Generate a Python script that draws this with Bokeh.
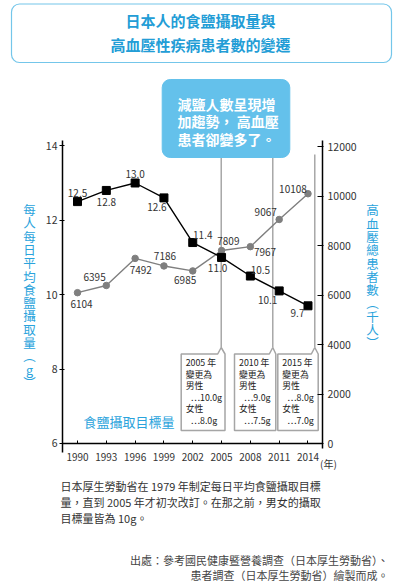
from bokeh.plotting import figure
from bokeh.models import ColumnDataSource, LinearAxis, Range1d, FixedTicker, Label, BoxAnnotation
from bokeh.core.properties import value
from bokeh.embed import file_html
from bokeh.resources import INLINE

# ---------------- data ----------------
years = [1990, 1993, 1996, 1999, 2002, 2005, 2008, 2011, 2014]
salt_intake = [12.5, 12.8, 13.0, 12.6, 11.4, 11.0, 10.5, 10.1, 9.7]
patients = [6104, 6395, 7492, 7186, 6985, 7809, 7967, 9067, 10108]
left_ticks = [6, 8, 10, 12, 14]
right_ticks = [0, 2000, 4000, 6000, 8000, 10000, 12000]
x_ticks = [1990, 1993, 1996, 1999, 2002, 2005, 2008, 2011, 2014]

title_lines = ["日本人的食鹽攝取量與", "高血壓性疾病患者數的變遷"]
callout_lines = ["減鹽人數呈現增", "加趨勢，\u00a0高血壓", "患者卻變多了。"]
left_label = "每人每日平均食鹽攝取量︵g︶"
right_label = "高血壓總患者數︵千人︶"
target_label = "食鹽攝取目標量"
year_unit = "(年)"
change_notes = [
    ["2005 年", "變更為", "男性", "…10.0g", "女性", "…8.0g"],
    ["2010 年", "變更為", "男性", "…9.0g", "女性", "…7.5g"],
    ["2015 年", "變更為", "男性", "…8.0g", "女性", "…7.0g"],
]
note_lines = [
    "日本厚生勞動省在 1979 年制定每日平均食鹽攝取目標",
    "量，直到 2005 年才初次改訂。在那之前，男女的攝取",
    "目標量皆為 10g。",
]
source_lines = [
    "出處：參考國民健康暨營養調查（日本厚生勞動省）、",
    "患者調查（日本厚生勞動省）繪製而成。",
]

# ---------------- layout (page pixels) ----------------
W, H = 405, 583
FL, FR, FT, FB = 62, 322, 140, 452       # plotting area in page pixels
XS, XE = 1988.438, 2015.51              # x values at FL / FR
YS, YE = 5.758, 14.142                  # left-axis values at FB / FT
Y2S, Y2E = -364, 12263                  # right-axis values at FB / FT

def X(px):
    return XS + (px - FL) / (FR - FL) * (XE - XS)

def Y(py):
    return YE - (py - FT) / (FB - FT) * (YE - YS)

def Y2(py):
    return Y2E - (py - FT) / (FB - FT) * (Y2E - Y2S)

CJK = "Noto Sans CJK TC"
BLUE = "#2aa3dc"
TXT = "#333333"

p = figure(width=W, height=H, output_backend="svg", toolbar_location=None,
           x_range=Range1d(X(0), X(W)), y_range=Range1d(Y(H), Y(0)),
           min_border=0, min_border_left=0, min_border_right=0,
           min_border_top=0, min_border_bottom=0)
p.outline_line_color = None
p.xgrid.visible = False
p.ygrid.visible = False
p.background_fill_color = "white"
p.border_fill_color = "white"
p.extra_y_ranges = {"y2": Range1d(Y2(H), Y2(0))}

# axes (fixed inside the full-page frame)
xa = p.xaxis[0]
xa.ticker = FixedTicker(ticks=x_ticks)
xa.fixed_location = 6
xa.bounds = (X(FL), X(FR))
xa.major_tick_in = 3
xa.major_tick_out = 0
xa.minor_tick_line_color = None
xa.axis_line_width = 1.5
xa.axis_line_color = "black"
xa.major_tick_line_color = "black"
xa.major_label_text_font = CJK
xa.major_label_text_font_size = "10px"
xa.major_label_text_color = TXT
xa.major_label_standoff = 10

ya = p.yaxis[0]
ya.ticker = FixedTicker(ticks=left_ticks)
ya.fixed_location = X(FL)
ya.bounds = (Y(FB), Y(FT))
ya.major_tick_in = 2
ya.major_tick_out = 3
ya.minor_tick_line_color = None
ya.axis_line_width = 1.5
ya.axis_line_color = "black"
ya.major_tick_line_color = "black"
ya.major_label_text_font = CJK
ya.major_label_text_font_size = "10.5px"
ya.major_label_text_color = TXT
ya.major_label_standoff = 2

ra = LinearAxis(y_range_name="y2", ticker=FixedTicker(ticks=right_ticks),
                fixed_location=X(FR), bounds=(Y2(448), Y2(FT)))
ra.major_tick_in = 5
ra.major_tick_out = 1
ra.minor_tick_line_color = None
ra.axis_line_width = 1.5
ra.axis_line_color = "black"
ra.major_tick_line_color = "black"
ra.major_label_text_font = CJK
ra.major_label_text_font_size = "10.5px"
ra.major_label_text_color = TXT
ra.major_label_standoff = 4
p.add_layout(ra, "right")

# pointer lines from callout to change boxes
ptr_x = [220.7, 272.3, 314.3]
ptr_top = [157, 157, 154]
ptr_bot = 347
p.segment(x0=[X(v) for v in ptr_x], y0=[Y(v) for v in ptr_top],
          x1=[X(v) for v in ptr_x], y1=[Y(ptr_bot)] * 3,
          line_color="#9a9a9a", line_width=1.3)

# change boxes with pointer notch
box_l = [180.7, 234.0, 277.3]
box_r = [224.5, 275.3, 317.7]
box_t, box_b = 353.5, 430.0
bxs, bys = [], []
for l, r, px in zip(box_l, box_r, ptr_x):
    pts = [(l, box_t), (px - 3.5, box_t), (px, ptr_bot), (r, box_t), (r, box_b), (l, box_b)]
    bxs.append([X(a) for a, b in pts])
    bys.append([Y(b) for a, b in pts])
p.patches(xs=bxs, ys=bys, fill_color="white", line_color="#a5a5a5", line_width=1.5)

tx, ty, tt, tox = [], [], [], []
indent = [0, 0, 0, 5, 0, 5]
for l, lines in zip(box_l, change_notes):
    for i, s in enumerate(lines):
        tx.append(X(l + 4.5))
        ty.append(Y(362 + i * 11.6))
        tt.append(s)
        tox.append(indent[i])
p.text(x=tx, y=ty, text=tt, x_offset=tox, text_font=value(CJK), text_font_size="8.8px",
       text_color="#222222", text_align="left", text_baseline="middle")

# data lines
src = ColumnDataSource(dict(year=years, salt=salt_intake, pat=patients,
                            salt_txt=[f"{v:.1f}" for v in salt_intake],
                            pat_txt=[str(v) for v in patients]))
p.line("year", "pat", source=src, y_range_name="y2", line_color="#7f7f7f", line_width=1.4)
p.scatter("year", "pat", source=src, y_range_name="y2", marker="circle", size=6.5,
          fill_color="#7f7f7f", line_color="#7f7f7f")
p.line("year", "salt", source=src, line_color="black", line_width=1.4)
p.scatter("year", "salt", source=src, marker="square", size=8, fill_color="black", line_color="black")

salt_dx = [0, 0, 0, -7, 10, -4, 10, -11.5, -10.5]
salt_dy = [-9, 12, -9, 9, -8, 11, -6, 8.6, 7]
pat_dx = [4, -11.7, 5.6, 1, -7.6, 6.8, 14.7, -13.5, -15]
pat_dy = [11, -8.3, 11.4, -9.7, 8.7, -10, 5.4, -7.3, -4.6]
p.text(x=years, y=salt_intake, text=src.data["salt_txt"], x_offset=salt_dx, y_offset=salt_dy,
       text_font=value(CJK), text_font_size="10px", text_color=TXT,
       text_align="center", text_baseline="middle")
p.text(x=years, y=patients, text=src.data["pat_txt"], x_offset=pat_dx, y_offset=pat_dy,
       y_range_name="y2", text_font=value(CJK), text_font_size="10px", text_color=TXT,
       text_align="center", text_baseline="middle")

# callout box
p.add_layout(BoxAnnotation(left=X(161.7), right=X(289.3), top=Y(79), bottom=Y(157),
                           fill_color="#64c1eb", fill_alpha=1.0, line_color="#64c1eb",
                           line_alpha=1.0, border_radius=8))
for i, s in enumerate(callout_lines):
    p.add_layout(Label(x=X(177), y=Y(103 + i * 17.5), text=s, text_font=CJK,
                       text_font_size="14px", text_font_style="bold", text_color="white",
                       text_align="left", text_baseline="middle"))

# title box
p.add_layout(BoxAnnotation(left=X(11), right=X(391), top=Y(3.5), bottom=Y(62),
                           fill_alpha=0.0, line_color="#74c6ea", line_alpha=1.0,
                           line_width=1.2, border_radius=8))
for i, s in enumerate(title_lines):
    p.add_layout(Label(x=X(200), y=Y(20 + i * 24.3), text=s, text_font=CJK,
                       text_font_size="15px", text_font_style="bold", text_color="#239dd6",
                       text_align="center", text_baseline="middle"))

# vertical axis labels (stacked characters)
for i, ch in enumerate(left_label):
    p.add_layout(Label(x=X(29), y=Y(209 + i * 13.3), text=ch, text_font=CJK,
                       text_font_size="12.5px", text_color=BLUE,
                       text_align="center", text_baseline="middle"))
for i, ch in enumerate(right_label):
    p.add_layout(Label(x=X(372), y=Y(209.3 + i * 13.3), text=ch, text_font=CJK,
                       text_font_size="12.5px", text_color=BLUE,
                       text_align="center", text_baseline="middle"))

p.add_layout(Label(x=X(83), y=Y(421), text=target_label, text_font=CJK,
                   text_font_size="13px", text_color=BLUE,
                   text_align="left", text_baseline="middle"))
p.add_layout(Label(x=X(319.5), y=Y(463), text=year_unit, text_font=CJK,
                   text_font_size="10px", text_color=TXT,
                   text_align="left", text_baseline="middle"))

for i, s in enumerate(note_lines):
    p.add_layout(Label(x=X(60), y=Y(485 + i * 16.2), text=s, text_font=CJK,
                       text_font_size="11px", text_color=TXT,
                       text_align="left", text_baseline="middle"))
for i, s in enumerate(source_lines):
    p.add_layout(Label(x=X(388), y=Y(559 + i * 15), text=s, text_font=CJK,
                       text_font_size="11px", text_color="#444444",
                       text_align="right", text_baseline="middle"))

open("out.html", "w").write(file_html(p, INLINE))
